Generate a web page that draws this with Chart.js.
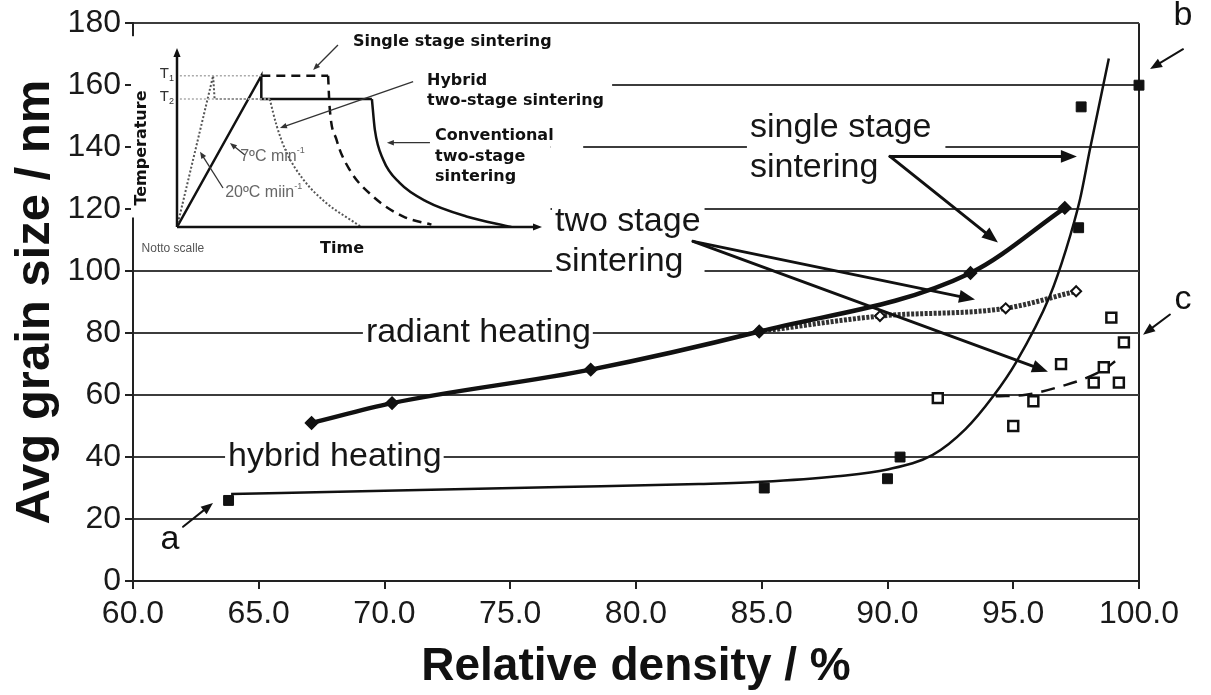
<!DOCTYPE html>
<html>
<head>
<meta charset="utf-8">
<script src="https://cdn.jsdelivr.net/npm/chart.js@4.4.1/dist/chart.umd.min.js"></script>
<style>
  body { margin: 0; background: #fff; }
  #wrap { position: relative; width: 1211px; height: 695px; }
  #inset { position: absolute; left: 131px; top: 30px; pointer-events: none; }
</style>
</head>
<body>
<div id="wrap">
  <canvas id="myChart" width="1211" height="695"></canvas>
  <canvas id="inset" width="490" height="235"></canvas>
</div>
<script>
// ---- main chart data (relative density %, grain size nm) ----
const xTicks = [60, 65, 70, 75, 80, 85, 90, 95, 100];
const yTicks = [0, 20, 40, 60, 80, 100, 120, 140, 160, 180];

// hybrid heating, single stage (filled squares) and its fitted curve
const hybridX = [63.8, 85.1, 90.0, 90.5, 97.6, 97.7, 100.0];
const hybridY = [26, 30, 33, 40, 114, 153, 160];
const hybridFitX = [63.9, 70, 77, 82.5, 85, 88, 90, 91.8, 93.1, 94.2, 95.1, 96.45, 97.1, 97.65, 98.05, 98.8];
const hybridFitY = [28.1, 29.1, 30.3, 31.3, 32, 33.8, 36, 40.7, 49, 59.6, 70.4, 91.9, 107, 123, 139.3, 168.6];

// radiant heating, single stage
const radiantX = [67.1, 70.3, 78.2, 84.9, 93.3, 97.05];
const radiantY = [51, 57.4, 68.2, 80.5, 99.4, 120.4];

// radiant heating, two stage
const radiant2X = [84.9, 89.7, 94.7, 97.5];
const radiant2Y = [80.5, 85.5, 88, 93.5];

// hybrid heating, two stage (open squares) and dashed trend
const hybrid2X = [92.0, 95.0, 95.8, 96.9, 98.2, 98.6, 98.9, 99.2, 99.4];
const hybrid2Y = [59, 50, 58, 70, 64, 69, 85, 64, 77];
const trendX = [94.3, 95.5, 97.1, 98.05, 98.7, 99.05];
const trendY = [59.6, 60.1, 63.3, 66, 68.7, 70.9];

// ---- inset schematic (time, temperature; arbitrary units) ----
const levelT1 = 84.5;
const levelT2 = 71.5;
const fastRampX = [0, 9.9, 10.3, 25.4];
const fastRampY = [0, 84.5, 71.5, 71.5];
const fastCoolX = [25.4, 27.3, 30.0, 34.5, 40.9, 48.2, 50.5];
const fastCoolY = [71.5, 56.6, 41.7, 26.8, 13.4, 3.1, 0];
const slowRampX = [0, 23.1, 23.1, 53.4];
const slowRampY = [0, 84.5, 71.5, 71.5];
const slowCoolX = [53.4, 54.2, 56.5, 61.0, 68.3, 79.3, 91.6];
const slowCoolY = [71.5, 54.4, 37.6, 24.6, 14.3, 5.9, 0];
const singleHoldX = [23.1, 41.4];
const singleHoldY = [84.5, 84.5];
const singleCoolX = [41.4, 41.8, 43.7, 47.3, 53.7, 61.9, 69.7];
const singleCoolY = [84.5, 67.4, 48.8, 32, 17.1, 5.9, 1.3];

const pts = (xs, ys) => xs.map((v, i) => ({ x: v, y: ys[i] }));

const FONT = 'Arial, "Liberation Sans", sans-serif';
const BOLD = '"DejaVu Sans", Verdana, sans-serif';
Chart.defaults.font.family = FONT;
Chart.defaults.color = "#1a1a1a";

function arrow(ctx, x1, y1, x2, y2, head, w) {
  const a = Math.atan2(y2 - y1, x2 - x1);
  const c = Math.cos(a), s = Math.sin(a);
  ctx.lineWidth = w;
  ctx.beginPath();
  ctx.moveTo(x1, y1);
  ctx.lineTo(x2 - c * head * 0.7, y2 - s * head * 0.7);
  ctx.stroke();
  ctx.beginPath();
  ctx.moveTo(x2, y2);
  ctx.lineTo(x2 - head * c + head * 0.4 * s, y2 - head * s - head * 0.4 * c);
  ctx.lineTo(x2 - head * c - head * 0.4 * s, y2 - head * s + head * 0.4 * c);
  ctx.closePath();
  ctx.fill();
}

// annotation layout (data units)
const blankBoxes = [
  [59.92, 76.6, 117.3, 175.8],
  [76.6, 77.9, 126.4, 175.8],
  [71.4, 79.05, 151.6, 165.2],
];
const notes = [
  { lines: ["single stage", "sintering"], x: 84.53, y: 146.4, pad: 14 },
  { lines: ["two stage", "sintering"], x: 76.78, y: 116, pad: 4 },
  { lines: ["radiant heating"], x: 69.26, y: 80.2, pad: 2 },
  { lines: ["hybrid heating"], x: 63.78, y: 40.1, pad: 2 },
];
const letters = [["a", 61.47, 13.3], ["b", 101.75, 182.6], ["c", 101.75, 90.8]];
const arrows = [
  [90.1, 137, 97.53, 137, 16, 3],
  [90.1, 137, 94.39, 109.2, 16, 3],
  [82.27, 109.6, 93.48, 90.8, 16, 3],
  [82.27, 109.6, 96.38, 67.5, 16, 3],
  [61.99, 17.5, 63.18, 25.2, 12, 2],
  [101.75, 171.6, 100.44, 165.2, 12, 2],
  [101.23, 86, 100.16, 79.5, 12, 2],
];

const notesPlugin = {
  id: "notes",
  beforeDatasetsDraw(chart) {
    const { ctx, scales: { x, y } } = chart;
    ctx.save();
    ctx.fillStyle = "#fff";
    blankBoxes.forEach(b => {
      const x1 = x.getPixelForValue(b[0]), x2 = x.getPixelForValue(b[1]);
      const y1 = y.getPixelForValue(b[3]), y2 = y.getPixelForValue(b[2]);
      ctx.fillRect(x1, y1, x2 - x1, y2 - y1);
    });
    ctx.font = "34px " + FONT;
    ctx.textBaseline = "middle";
    notes.forEach(n => {
      const left = x.getPixelForValue(n.x), top = y.getPixelForValue(n.y);
      const w = Math.max(...n.lines.map(t => ctx.measureText(t).width));
      ctx.fillStyle = "#fff";
      ctx.fillRect(left - 3, top - 19, w + 3 + n.pad, 40 * n.lines.length - 2);
      ctx.fillStyle = "#161616";
      n.lines.forEach((t, i) => ctx.fillText(t, left, top + i * 40));
    });
    ctx.restore();
  },
  afterDatasetsDraw(chart) {
    const { ctx, scales: { x, y } } = chart;
    ctx.save();
    ctx.strokeStyle = "#111";
    ctx.fillStyle = "#111";
    ctx.lineCap = "round";
    arrows.forEach(a => arrow(ctx, x.getPixelForValue(a[0]), y.getPixelForValue(a[1]),
      x.getPixelForValue(a[2]), y.getPixelForValue(a[3]), a[4], a[5]));
    ctx.font = "34px " + FONT;
    ctx.textAlign = "center";
    ctx.textBaseline = "middle";
    letters.forEach(l => ctx.fillText(l[0], x.getPixelForValue(l[1]), y.getPixelForValue(l[2])));
    ctx.restore();
  }
};

const ctx = document.getElementById("myChart");
new Chart(ctx, {
  type: "scatter",
  data: {
    datasets: [
      {
        data: pts(hybridFitX, hybridFitY), showLine: true, borderColor: "#111",
        borderWidth: 2.5, pointRadius: 0, cubicInterpolationMode: "monotone",
      },
      {
        data: pts(hybridX, hybridY), showLine: false, pointStyle: "rect", clip: false,
        pointRadius: 7, backgroundColor: "#111", borderColor: "#111", borderWidth: 1,
      },
      {
        data: pts(radiantX, radiantY), showLine: true, borderColor: "#111", borderWidth: 4.5,
        pointStyle: "rectRot", pointRadius: 4, backgroundColor: "#111",
        cubicInterpolationMode: "monotone",
      },
      {
        data: pts(radiant2X, radiant2Y), showLine: true, borderColor: "#333", borderWidth: 5,
        borderDash: [3, 1.5], pointStyle: "rectRot", pointRadius: 5, backgroundColor: "#fff",
        pointBorderColor: "#111", pointBorderWidth: 2, cubicInterpolationMode: "monotone",
      },
      {
        data: pts(hybrid2X, hybrid2Y), showLine: false, pointStyle: "rect", pointRadius: 7,
        backgroundColor: "#fff", borderColor: "#111", borderWidth: 2.5, clip: false,
      },
      {
        data: pts(trendX, trendY), showLine: true, borderColor: "#111", borderWidth: 2.5,
        borderDash: [14, 9], pointRadius: 0, cubicInterpolationMode: "monotone",
      },
    ],
  },
  options: {
    responsive: false,
    animation: false,
    devicePixelRatio: 1,
    layout: { padding: { left: 0, top: 22, right: 72, bottom: 0 } },
    plugins: { legend: { display: false }, tooltip: { enabled: false } },
    scales: {
      x: {
        type: "linear", min: 60, max: 100,
        afterBuildTicks: s => { s.ticks = xTicks.map(v => ({ value: v })); },
        afterFit: s => { s.height = 114; },
        grid: {
          color: c => (c.tick && c.tick.value === 100 ? "#222" : "rgba(0,0,0,0)"),
          tickColor: "#222", lineWidth: 2, tickLength: 8,
        },
        border: { color: "#222", width: 2 },
        ticks: { font: { size: 32 }, color: "#1a1a1a", padding: 6, maxRotation: 0,
          callback: v => Number(v).toFixed(1) },
        title: { display: true, text: "Relative density / %", color: "#111",
          font: { size: 46, weight: "bold" }, padding: { top: 0, bottom: 0 } },
      },
      y: {
        type: "linear", min: 0, max: 180,
        afterBuildTicks: s => { s.ticks = yTicks.map(v => ({ value: v })); },
        afterFit: s => { s.width = 133; },
        grid: { color: "#3c3c3c", tickColor: "#222", lineWidth: 2, tickLength: 8 },
        border: { color: "#222", width: 2 },
        ticks: { font: { size: 32 }, color: "#1a1a1a", padding: 4 },
        title: { display: true, text: "Avg grain size / nm", color: "#111",
          font: { size: 49, weight: "bold" }, padding: { top: 6, bottom: 0 } },
      },
    },
  },
  plugins: [notesPlugin],
});

// ---- inset schematic ----
const insetNotes = [
  { t: "Single stage sintering", x: 48.2, y: 103.5 },
  { t: "Hybrid", x: 68.5, y: 81.7 },
  { t: "two-stage sintering", x: 68.5, y: 70.4 },
  { t: "Conventional", x: 70.7, y: 50.8 },
  { t: "two-stage", x: 70.7, y: 39.3 },
  { t: "sintering", x: 70.7, y: 28.1 },
];
const insetArrows = [
  [44.1, 101.7, 37.3, 87.7],
  [64.7, 81.2, 28.2, 55.3],
  [69.3, 47.1, 57.5, 47.1],
  [18.6, 40.2, 14.5, 46.9],
  [12.6, 21.8, 6.3, 42.1],
];

const insetPlugin = {
  id: "insetNotes",
  afterDatasetsDraw(chart) {
    const { ctx, scales: { x, y } } = chart;
    const X = v => x.getPixelForValue(v), Y = v => y.getPixelForValue(v);
    ctx.save();
    ctx.strokeStyle = "#111";
    ctx.fillStyle = "#111";
    arrow(ctx, X(0), Y(0), X(0), Y(100), 9, 2.5);
    arrow(ctx, X(0), Y(0), X(100), Y(0), 9, 2.5);
    ctx.strokeStyle = "#333";
    ctx.fillStyle = "#333";
    insetArrows.forEach(a => arrow(ctx, X(a[0]), Y(a[1]), X(a[2]), Y(a[3]), 7, 1.3));

    ctx.fillStyle = "#111";
    ctx.textBaseline = "middle";
    ctx.font = "bold 16px " + BOLD;
    insetNotes.forEach(n => ctx.fillText(n.t, X(n.x), Y(n.y)));
    ctx.fillText("Time", X(39.2), Y(-12.3));
    ctx.save();
    ctx.translate(X(-9.7), Y(44.1));
    ctx.rotate(-Math.PI / 2);
    ctx.textAlign = "center";
    ctx.fillText("Temperature", 0, 0);
    ctx.restore();

    ctx.fillStyle = "#555";
    ctx.font = "12px " + FONT;
    ctx.fillText("Notto scalle", X(-9.7), Y(-12.3));

    // T1 / T2 labels
    ctx.fillStyle = "#333";
    [["1", levelT1], ["2", levelT2]].forEach(([s, v]) => {
      ctx.font = "15px " + FONT;
      ctx.textAlign = "right";
      ctx.fillText("T", X(-2.2), Y(v) - 2);
      ctx.font = "9px " + FONT;
      ctx.textAlign = "left";
      ctx.fillText(s, X(-2.2), Y(v) + 3);
    });

    // heating rates
    ctx.fillStyle = "#666";
    [["7ºC min", "-1", 17.3, 39.3], ["20ºC miin", "-1", 13.2, 19]].forEach(r => {
      ctx.font = "16px " + FONT;
      ctx.textAlign = "left";
      ctx.fillText(r[0], X(r[2]), Y(r[3]));
      const w = ctx.measureText(r[0]).width;
      ctx.font = "9px " + FONT;
      ctx.fillText(r[1], X(r[2]) + w, Y(r[3]) - 6);
    });
    ctx.restore();
  }
};

new Chart(document.getElementById("inset"), {
  type: "scatter",
  data: {
    datasets: [
      { data: pts([-1.4, 23.1], [levelT1, levelT1]), showLine: true, borderColor: "#aaa",
        borderWidth: 1.5, borderDash: [2, 2], pointRadius: 0 },
      { data: pts([-1.4, 25.4], [levelT2, levelT2]), showLine: true, borderColor: "#aaa",
        borderWidth: 1.5, borderDash: [2, 2], pointRadius: 0 },
      { data: pts(fastRampX, fastRampY), showLine: true, borderColor: "#555",
        borderWidth: 2, borderDash: [2, 2], pointRadius: 0 },
      { data: pts(fastCoolX, fastCoolY), showLine: true, borderColor: "#555",
        borderWidth: 2, borderDash: [2, 2], pointRadius: 0, cubicInterpolationMode: "monotone" },
      { data: pts(slowRampX, slowRampY), showLine: true, borderColor: "#111",
        borderWidth: 2.5, pointRadius: 0 },
      { data: pts(slowCoolX, slowCoolY), showLine: true, borderColor: "#111",
        borderWidth: 2.5, pointRadius: 0, cubicInterpolationMode: "monotone" },
      { data: pts(singleHoldX, singleHoldY), showLine: true, borderColor: "#111",
        borderWidth: 2.5, borderDash: [9, 6], pointRadius: 0 },
      { data: pts(singleCoolX, singleCoolY), showLine: true, borderColor: "#111",
        borderWidth: 2.5, borderDash: [9, 6], pointRadius: 0, cubicInterpolationMode: "monotone" },
    ],
  },
  options: {
    responsive: false,
    animation: false,
    devicePixelRatio: 1,
    layout: { padding: { left: 46, right: 79, top: 18, bottom: 38 } },
    plugins: { legend: { display: false }, tooltip: { enabled: false } },
    scales: {
      x: { type: "linear", min: 0, max: 100, display: false },
      y: { type: "linear", min: 0, max: 100, display: false },
    },
  },
  plugins: [insetPlugin],
});
</script>
</body>
</html>
